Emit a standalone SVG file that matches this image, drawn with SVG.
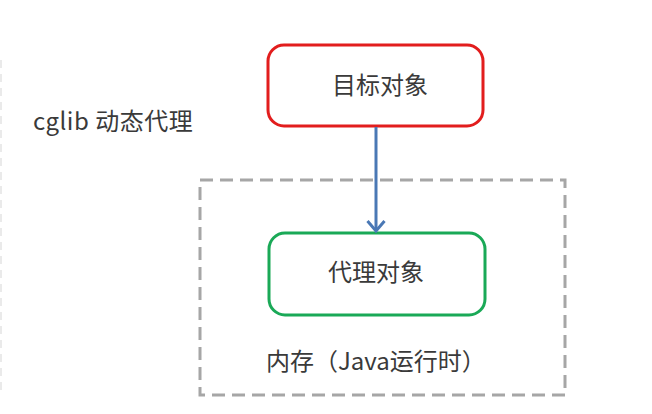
<svg xmlns="http://www.w3.org/2000/svg" width="652" height="414" viewBox="0 0 652 414">
<style>
text{font-family:"Noto Sans CJK SC","Noto Sans",sans-serif;fill:#3a3a3a;font-size:24px}
.box{fill:#fff;stroke-width:3}
</style>
<defs>
<marker id="arr" markerWidth="20" markerHeight="20" refX="14" refY="10" orient="auto" markerUnits="userSpaceOnUse" viewBox="0 0 20 20">
<path d="M4,1.5 L14,10 L4,18.5" fill="none" stroke="#4a78b5" stroke-width="3"/>
</marker>
</defs>
<rect width="652" height="414" fill="#fff"/>
<line x1="1" y1="60" x2="1" y2="395" stroke="#e4e4e4" stroke-width="1.5" stroke-dasharray="8 6"/>
<text x="33" y="130" letter-spacing="0.5">cglib 动态代理</text>
<g id="memory">
<rect x="200" y="180" width="365" height="215" fill="none" stroke="#a6a6a6" stroke-width="3" stroke-dasharray="13 7"/>
<text x="266" y="370">内存（Java运行时）</text>
</g>
<g id="target">
<rect class="box" x="268" y="45" width="215" height="81" rx="16" stroke="#e21d1d"/>
<text x="380" y="94" text-anchor="middle">目标对象</text>
</g>
<g id="proxy">
<rect class="box" x="269" y="233" width="216" height="82" rx="16" stroke="#1aa957"/>
<text x="376" y="281" text-anchor="middle">代理对象</text>
</g>
<g id="connectors">
<line x1="376" y1="127" x2="376" y2="231" stroke="#4a78b5" stroke-width="3" marker-end="url(#arr)"/>
</g>
</svg>
